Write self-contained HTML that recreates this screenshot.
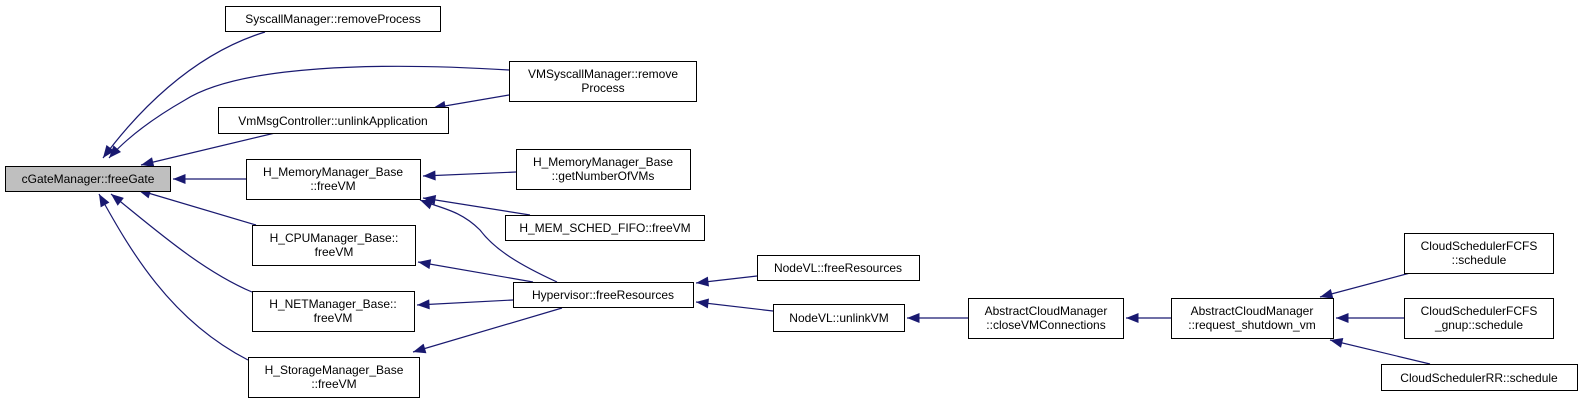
<!DOCTYPE html>
<html><head><meta charset="utf-8"><style>
html,body{margin:0;padding:0;background:#fff;}
svg{display:block;}
text{font-family:"Liberation Sans",sans-serif;font-size:12px;fill:#000;}
</style></head><body>
<svg width="1581" height="400" viewBox="0 0 1581 400" xmlns="http://www.w3.org/2000/svg">
<defs>
<marker id="a" viewBox="0 0 10 8" refX="10" refY="4" markerWidth="13" markerHeight="10" markerUnits="userSpaceOnUse" orient="auto">
<path d="M0,0 L10,4 L0,8 z" fill="#191970"/>
</marker>
</defs>
<g fill="none" stroke="#191970" stroke-width="1.2" marker-end="url(#a)">
<path d="M265,32 C190,55 135,115 103,158"/>
<path d="M509,70 C380,62 240,65 185,100 C150,120 125,140 109,158"/>
<path d="M275,133 L141,165"/>
<path d="M246,179 L173,179"/>
<path d="M256,225 L138,190"/>
<path d="M252,292 C200,270 150,225 111,194"/>
<path d="M248,360 C170,320 130,250 99,194"/>
<path d="M509,95 L433,108"/>
<path d="M516,172 L423,176"/>
<path d="M530,215 L423,198"/>
<path d="M557,282 C520,265 495,250 480,230 C460,210 440,208 420,200"/>
<path d="M533,282 L418,262"/>
<path d="M513,300 L417,305"/>
<path d="M562,308 L413,352"/>
<path d="M757,276 L696,283"/>
<path d="M773,311 L696,302"/>
<path d="M968,318 L907,318"/>
<path d="M1171,318 L1126,318"/>
<path d="M1410,273 L1320,297"/>
<path d="M1404,318 L1336,318"/>
<path d="M1430,364 L1330,340"/>
</g>
<g stroke="#000" stroke-width="1" fill="#fff">
<rect x="5.5" y="166.5" width="165" height="25" fill="#bfbfbf"/>
<rect x="225.5" y="6.5" width="215" height="25"/>
<rect x="509.5" y="61.5" width="187" height="40"/>
<rect x="218.5" y="107.5" width="230" height="26"/>
<rect x="246.5" y="159.5" width="174" height="40"/>
<rect x="516.5" y="149.5" width="174" height="40"/>
<rect x="505.5" y="215.5" width="199" height="25"/>
<rect x="252.5" y="225.5" width="163" height="40"/>
<rect x="252.5" y="291.5" width="162" height="40"/>
<rect x="248.5" y="357.5" width="171" height="40"/>
<rect x="513.5" y="282.5" width="180" height="25"/>
<rect x="757.5" y="255.5" width="162" height="25"/>
<rect x="773.5" y="304.5" width="131" height="27"/>
<rect x="968.5" y="298.5" width="155" height="40"/>
<rect x="1171.5" y="298.5" width="162" height="40"/>
<rect x="1404.5" y="233.5" width="149" height="40"/>
<rect x="1404.5" y="298.5" width="149" height="40"/>
<rect x="1381.5" y="364.5" width="196" height="26"/>
</g>
<g text-anchor="middle">
<text x="88" y="183">cGateManager::freeGate</text>
<text x="333" y="23">SyscallManager::removeProcess</text>
<text x="603" y="78">VMSyscallManager::remove</text>
<text x="603" y="92">Process</text>
<text x="333" y="125">VmMsgController::unlinkApplication</text>
<text x="333" y="176">H_MemoryManager_Base</text>
<text x="333" y="190">::freeVM</text>
<text x="603" y="166">H_MemoryManager_Base</text>
<text x="603" y="180">::getNumberOfVMs</text>
<text x="605" y="232">H_MEM_SCHED_FIFO::freeVM</text>
<text x="334" y="242">H_CPUManager_Base::</text>
<text x="334" y="256">freeVM</text>
<text x="333" y="308">H_NETManager_Base::</text>
<text x="333" y="322">freeVM</text>
<text x="334" y="374">H_StorageManager_Base</text>
<text x="334" y="388">::freeVM</text>
<text x="603" y="299">Hypervisor::freeResources</text>
<text x="838" y="272">NodeVL::freeResources</text>
<text x="839" y="322">NodeVL::unlinkVM</text>
<text x="1046" y="315">AbstractCloudManager</text>
<text x="1046" y="329">::closeVMConnections</text>
<text x="1252" y="315">AbstractCloudManager</text>
<text x="1252" y="329">::request_shutdown_vm</text>
<text x="1479" y="250">CloudSchedulerFCFS</text>
<text x="1479" y="264">::schedule</text>
<text x="1479" y="315">CloudSchedulerFCFS</text>
<text x="1479" y="329">_gnup::schedule</text>
<text x="1479" y="382">CloudSchedulerRR::schedule</text>
</g>
</svg>
</body></html>
